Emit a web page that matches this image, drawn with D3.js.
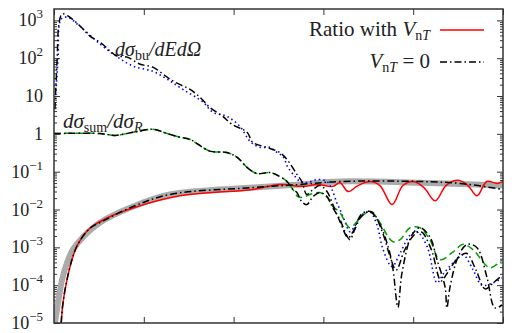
<!DOCTYPE html>
<html>
<head>
<meta charset="utf-8">
<script src="https://cdn.jsdelivr.net/npm/d3@7"></script>
<style>
  body { margin: 0; background: #fff; }
  svg text { font-family: "Liberation Serif", "DejaVu Serif", serif; fill: #222; }
</style>
</head>
<body>
<div id="chart"></div>
<script>
// tick values
var xTicks = [0, 2, 4, 6, 8, 10];
var yTicks = [1e-5, 1e-4, 1e-3, 1e-2, 1e-1, 1, 10, 1e2, 1e3];
var yTickBase = ["10", "10", "10", "10", "10", "1", "10", "10", "10"];
var yTickExp = ["\u22125", "\u22124", "\u22123", "\u22122", "\u22121", "", "", "2", "3"];

// thick grey reference curve
var greyX = [0.02, 0.09, 0.18, 0.29, 0.42, 0.65, 1.02, 1.76, 2.58, 4.43, 5.48, 6.37, 8.15, 10];
var greyY = [1.0e-5, 3.4e-5, 1.4e-4, 3.9e-4, 8.7e-4, 1.9e-3, 4.5e-3, 0.012, 0.025, 0.038, 0.046, 0.055, 0.051, 0.043];

// ratio with V_nT (red)
var ratioX = [0.16, 0.20, 0.29, 0.40, 0.53, 0.80, 1.25, 1.76, 2.81, 4.43, 5.03, 5.55, 5.86, 6.21, 6.37, 6.55, 6.77, 7.04, 7.26, 7.53, 7.77, 8.00, 8.24, 8.49, 8.73, 9.00, 9.22, 9.42, 9.64, 9.87, 10];
var ratioY = [1e-5, 3.4e-5, 1.4e-4, 4.7e-4, 1.2e-3, 3.2e-3, 6.5e-3, 0.011, 0.023, 0.034, 0.046, 0.041, 0.046, 0.041, 0.051, 0.030, 0.043, 0.055, 0.043, 0.0135, 0.043, 0.055, 0.038, 0.017, 0.043, 0.059, 0.043, 0.023, 0.055, 0.049, 0.055];

// ratio with V_nT = 0
var ratio0X = [0.16, 0.20, 0.29, 0.40, 0.53, 0.80, 1.02, 1.76, 2.58, 4.43, 5.48, 6.37, 8.15, 9.04, 10];
var ratio0Y = [1e-5, 3.4e-5, 1.4e-4, 4.7e-4, 1.2e-3, 3.2e-3, 4.5e-3, 0.012, 0.025, 0.038, 0.046, 0.055, 0.055, 0.049, 0.034];

// dsigma_bu/dEdOmega with V_nT (blue dotted)
var buX = [0.04, 0.09, 0.16, 0.31, 0.58, 1.02, 1.40, 1.76, 2.20, 2.52, 2.87, 3.32, 3.54, 3.85, 4.14, 4.37, 4.59, 4.81, 4.92, 5.10, 5.21, 5.37, 5.48, 5.63, 5.86, 6.08, 6.19, 6.30, 6.37, 6.48, 6.59, 6.70, 6.86, 7.04, 7.19, 7.33, 7.53, 7.71, 7.93, 8.08, 8.31, 8.53, 8.66, 8.89, 9.11, 9.33, 9.53, 9.78, 9.98];
var buY = [10.5, 95, 1090, 1200, 690, 240, 110, 62, 45, 28, 15, 6.9, 3.7, 2.9, 1.58, 0.63, 0.44, 0.44, 0.35, 0.25, 0.13, 0.074, 0.055, 0.051, 0.062, 0.055, 0.034, 0.015, 0.010, 4.8e-3, 2.6e-3, 3.7e-3, 7.3e-3, 8.7e-3, 4.0e-3, 8.7e-4, 3.1e-4, 7.2e-4, 2.1e-3, 2.6e-3, 1.05e-3, 1.15e-4, 1.9e-4, 3.9e-4, 6.3e-4, 2.6e-4, 1.0e-4, 1.15e-4, 1.55e-4];

// dsigma_bu/dEdOmega with V_nT = 0
var bu0X = [0.02, 0.07, 0.11, 0.18, 0.31, 0.58, 0.80, 1.02, 1.25, 1.40, 1.63, 1.92, 2.20, 2.43, 2.58, 2.81, 3.03, 3.25, 3.47, 3.76, 3.96, 4.30, 4.43, 4.74, 5.03, 5.19, 5.41, 5.52, 5.63, 5.77, 5.92, 6.08, 6.21, 6.37, 6.55, 6.66, 6.86, 7.08, 7.31, 7.48, 7.62, 7.80, 8.00, 8.17, 8.40, 8.62, 8.75, 8.95, 9.18, 9.40, 9.60, 9.80, 9.98];
var bu0Y = [4.5, 95, 800, 1480, 1310, 710, 385, 268, 155, 114, 107, 69, 58, 38, 28, 20, 15, 9.3, 5.0, 2.9, 1.8, 1.10, 0.59, 0.44, 0.32, 0.21, 0.085, 0.055, 0.025, 0.034, 0.043, 0.030, 0.0135, 4.8e-3, 1.8e-3, 2.6e-3, 7.8e-3, 8.7e-3, 2.6e-3, 6.0e-4, 2.5e-4, 8.0e-4, 2.0e-3, 2.6e-3, 9.0e-4, 1.3e-4, 2.0e-4, 4.5e-4, 7.0e-4, 2.5e-4, 8.0e-5, 1.2e-4, 1.8e-4];

// dsigma_sum/dsigma_R with V_nT (green dashed)
var sumX = [0, 1.02, 1.36, 1.76, 2.20, 2.52, 2.81, 3.03, 3.47, 3.85, 4.08, 4.30, 4.52, 4.81, 5.03, 5.19, 5.32, 5.43, 5.55, 5.70, 5.92, 6.08, 6.21, 6.37, 6.48, 6.59, 6.75, 6.93, 7.08, 7.26, 7.42, 7.55, 7.71, 7.93, 8.15, 8.37, 8.60, 8.89, 9.11, 9.33, 9.71, 9.98];
var sumY = [1.02, 1.02, 0.91, 1.10, 1.32, 1.02, 0.81, 0.71, 0.35, 0.32, 0.24, 0.13, 0.089, 0.095, 0.074, 0.055, 0.034, 0.022, 0.021, 0.025, 0.028, 0.021, 0.012, 0.0083, 4.8e-3, 3.3e-3, 4.8e-3, 7.8e-3, 8.3e-3, 4.5e-3, 2.1e-3, 1.4e-3, 1.6e-3, 3.3e-3, 3.3e-3, 1.6e-3, 4.7e-4, 7.6e-4, 1.2e-3, 8.7e-4, 2.9e-4, 4.7e-4];

// dsigma_sum/dsigma_R with V_nT = 0
var sum0X = [0, 1.02, 1.36, 1.76, 2.20, 2.52, 2.81, 3.03, 3.47, 3.85, 4.08, 4.30, 4.52, 4.81, 5.03, 5.19, 5.32, 5.41, 5.52, 5.63, 5.77, 5.92, 6.08, 6.21, 6.37, 6.48, 6.59, 6.70, 6.86, 7.04, 7.26, 7.46, 7.55, 7.66, 7.75, 7.97, 8.15, 8.37, 8.53, 8.71, 8.75, 8.82, 9.00, 9.20, 9.42, 9.64, 9.82, 9.98];
var sum0Y = [1.02, 1.02, 0.91, 1.10, 1.32, 1.02, 0.81, 0.71, 0.35, 0.32, 0.24, 0.13, 0.089, 0.095, 0.074, 0.055, 0.034, 0.028, 0.016, 0.0135, 0.022, 0.028, 0.022, 0.011, 5.4e-3, 2.6e-3, 1.6e-3, 3.0e-3, 6.9e-3, 8.7e-3, 4.0e-3, 8.7e-4, 2.6e-4, 2.6e-5, 2.1e-4, 2.1e-3, 3.3e-3, 1.9e-3, 4.7e-4, 8.9e-5, 2.5e-5, 8.9e-5, 5.6e-4, 1.2e-3, 9.8e-4, 1.66e-4, 2.5e-5, 3.0e-5];

var margin = {top: 9, right: 9, bottom: 10, left: 54},
  width = 512 - margin.left - margin.right,
  height = 333 - margin.top - margin.bottom;

var svg = d3.select("#chart")
  .append("svg")
    .attr("width", 512)
    .attr("height", 333)
  .append("g")
    .attr("transform", "translate(" + margin.left + "," + margin.top + ")");

var x = d3.scaleLinear().domain([0, 10]).range([0, width]);
var y = d3.scaleLog().domain([1e-5, 2000]).range([height, 0]);

svg.append("clipPath").attr("id", "clip")
  .append("rect").attr("width", width).attr("height", height);

// minor log ticks
var minor = [];
yTicks.forEach(function(t) {
  for (var m = 2; m < 10; m++) {
    if (t * m < 2000) minor.push(t * m);
  }
});

function axisStyle(g) {
  g.select(".domain").remove();
  g.selectAll("line").attr("stroke", "#333").attr("stroke-width", 1);
  g.selectAll("text").remove();
}

svg.append("g").call(d3.axisLeft(y).tickValues(yTicks).tickSize(-6)).call(axisStyle);
svg.append("g").call(d3.axisLeft(y).tickValues(minor).tickSize(-3)).call(axisStyle);
svg.append("g").attr("transform", "translate(" + width + ",0)")
  .call(d3.axisRight(y).tickValues(yTicks).tickSize(-6)).call(axisStyle);
svg.append("g").attr("transform", "translate(" + width + ",0)")
  .call(d3.axisRight(y).tickValues(minor).tickSize(-3)).call(axisStyle);
svg.append("g").call(d3.axisTop(x).tickValues(xTicks).tickSize(-6)).call(axisStyle);
svg.append("g").attr("transform", "translate(0," + height + ")")
  .call(d3.axisBottom(x).tickValues(xTicks).tickSize(-6)).call(axisStyle);

// y tick labels with superscripts
yTicks.forEach(function(t, i) {
  var lab = svg.append("text")
    .attr("x", -11).attr("y", y(t) + 6)
    .attr("text-anchor", "end")
    .style("font-size", "18px");
  lab.append("tspan").text(yTickBase[i]);
  if (yTickExp[i] !== "") {
    lab.append("tspan").attr("dy", -8).style("font-size", "13px").text(yTickExp[i]);
  }
});

// x tick labels (cut off by the bottom edge, as in the original)
svg.selectAll(".xlab")
  .data(xTicks)
  .enter()
  .append("text")
    .attr("x", function(d) { return x(d); })
    .attr("y", height + 24)
    .attr("text-anchor", "middle")
    .style("font-size", "18px")
    .text(function(d) { return d; });

function pts(xs, ys) {
  return xs.map(function(v, i) { return [v, ys[i]]; });
}

var line = d3.line()
  .x(function(d) { return x(d[0]); })
  .y(function(d) { return y(d[1]); })
  .curve(d3.curveCatmullRom.alpha(0.5));

var plot = svg.append("g").attr("clip-path", "url(#clip)");

plot.append("path").datum(pts(greyX, greyY))
  .attr("d", line).attr("fill", "none")
  .attr("stroke", "#aaaaaa").attr("stroke-width", 6);

plot.append("path").datum(pts(ratioX, ratioY))
  .attr("d", line).attr("fill", "none")
  .attr("stroke", "#ff0000").attr("stroke-width", 1.5);

plot.append("path").datum(pts(buX, buY))
  .attr("d", line).attr("fill", "none")
  .attr("stroke", "#0000ff").attr("stroke-width", 1.6)
  .attr("stroke-dasharray", "1.5,3");

plot.append("path").datum(pts(sumX, sumY))
  .attr("d", line).attr("fill", "none")
  .attr("stroke", "#00a000").attr("stroke-width", 1.5)
  .attr("stroke-dasharray", "7,4");

var dashDot = "7,3,1.5,3";
[pts(ratio0X, ratio0Y), pts(bu0X, bu0Y), pts(sum0X, sum0Y)].forEach(function(d) {
  plot.append("path").datum(d)
    .attr("d", line).attr("fill", "none")
    .attr("stroke", "#000").attr("stroke-width", 1.5)
    .attr("stroke-dasharray", dashDot);
});

// frame
svg.append("rect")
  .attr("width", width).attr("height", height)
  .attr("fill", "none").attr("stroke", "#333").attr("stroke-width", 1.5);

// curve labels
var t1 = svg.append("text").attr("x", 61).attr("y", 47).style("font-size", "20px").style("font-style", "italic");
t1.append("tspan").text("d\u03c3");
t1.append("tspan").attr("dy", 4).style("font-size", "14px").style("font-style", "normal").text("bu");
t1.append("tspan").attr("dy", -4).text("/dEd\u03a9");

var t2 = svg.append("text").attr("x", 9).attr("y", 119).style("font-size", "21px").style("font-style", "italic");
t2.append("tspan").text("d\u03c3");
t2.append("tspan").attr("dy", 4).style("font-size", "14px").style("font-style", "normal").text("sum");
t2.append("tspan").attr("dy", -4).text("/d\u03c3");
t2.append("tspan").attr("dy", 4).style("font-size", "14px").text("R");

// legend
var legend = svg.append("g");
var l1 = legend.append("text").attr("x", 376).attr("y", 27).attr("text-anchor", "end").style("font-size", "21px");
l1.append("tspan").text("Ratio with ");
l1.append("tspan").style("font-style", "italic").text("V");
l1.append("tspan").attr("dy", 4).style("font-size", "14px").text("n");
l1.append("tspan").style("font-size", "14px").style("font-style", "italic").text("T");
legend.append("line").attr("x1", 386).attr("x2", 430).attr("y1", 21).attr("y2", 21)
  .attr("stroke", "#ff0000").attr("stroke-width", 1.5);

var l2 = legend.append("text").attr("x", 376).attr("y", 59).attr("text-anchor", "end").style("font-size", "21px");
l2.append("tspan").style("font-style", "italic").text("V");
l2.append("tspan").attr("dy", 4).style("font-size", "14px").text("n");
l2.append("tspan").style("font-size", "14px").style("font-style", "italic").text("T");
l2.append("tspan").attr("dy", -4).text(" = 0");
legend.append("line").attr("x1", 386).attr("x2", 430).attr("y1", 53).attr("y2", 53)
  .attr("stroke", "#000").attr("stroke-width", 1.5).attr("stroke-dasharray", dashDot);
</script>
</body>
</html>
